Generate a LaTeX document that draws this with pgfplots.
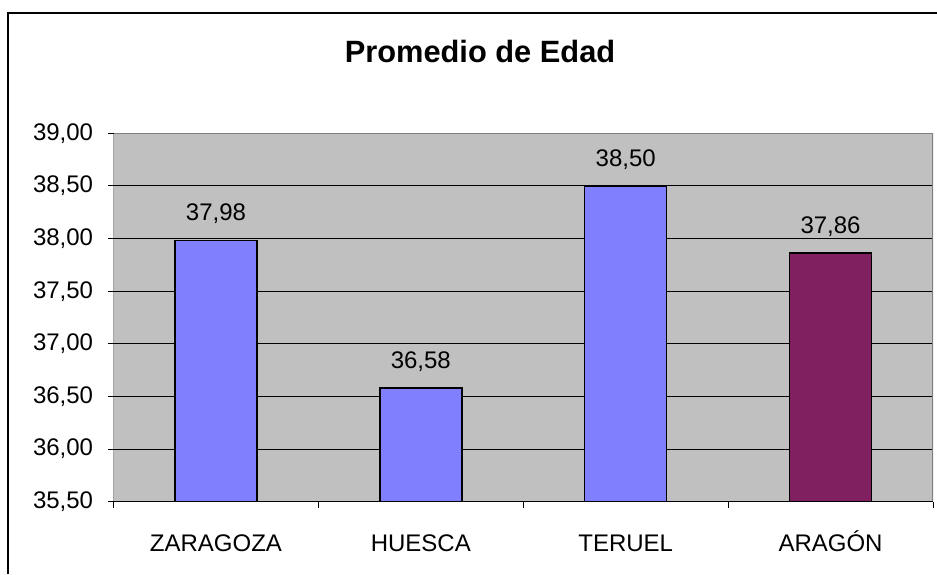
\documentclass[border=0pt]{standalone}
\usepackage{fontspec}
\setmainfont{Liberation Sans}
\usepackage{pgfplots}
\pgfplotsset{compat=1.18}
\definecolor{barblue}{RGB}{128,128,255}
\definecolor{barplum}{RGB}{128,32,96}
\definecolor{plotgray}{RGB}{192,192,192}
\definecolor{bordergray}{RGB}{128,128,128}
\begin{document}
\begin{tikzpicture}
\path[use as bounding box, fill=white] (0,0) rectangle (468.5pt,287pt);
\draw[black, line width=1pt] (4pt,0) -- (4pt,280.5pt) -- (468.5pt,280.5pt);
\node[font=\fontsize{15.4}{18}\selectfont\bfseries, anchor=base] at (240pt,255.5pt) {Promedio de Edad};
\begin{axis}[
  at={(56.75pt,36.15pt)}, anchor=south west,
  scale only axis, width=409.75pt, height=184.2pt,
  xmin=-0.5, xmax=3.5, ymin=35.5, ymax=39,
  ytick={35.5,36,36.5,37,37.5,38,38.5,39},
  xtick={0,1,2,3},
  xticklabels={ZARAGOZA,HUESCA,TERUEL,ARAGÓN},
  minor xtick={-0.5,0.5,1.5,2.5,3.5},
  major x tick style={draw=none},
  minor tick length=3pt, major tick length=3pt,
  tick align=outside,
  xtick pos=bottom, ytick pos=left,
  tick style={black, line width=0.5pt},
  ymajorgrids, grid style={black, line width=0.5pt},
  axis background/.style={fill=plotgray},
  axis line style={draw=none},
  /pgf/number format/.cd, fixed, zerofill, precision=2, use comma, assume math mode=true,
  /pgfplots/.cd,
  tick label style={font=\fontsize{12}{14}\selectfont},
  yticklabel style={inner sep=0pt, xshift=-7pt},
  xticklabel style={anchor=base, inner sep=0pt, yshift=-21.7pt},
  ybar, bar width=41pt,
  nodes near coords,
  every node near coord/.append style={font=\fontsize{12}{14}\selectfont, inner sep=0pt, text depth=0pt, yshift=9.5pt, black},
  clip=true,
]
\addplot[ybar, bar shift=0pt, fill=barblue, draw=black, line width=0.8pt] coordinates {(0,37.98) (1,36.58) (2,38.50)};
\addplot[ybar, bar shift=0pt, fill=barplum, draw=black, line width=0.8pt] coordinates {(3,37.86)};
\draw[bordergray, line width=1pt] (rel axis cs:0,1) -- (rel axis cs:1,1) -- (rel axis cs:1,0);
\draw[black, line width=0.6pt] (rel axis cs:0,1) -- (rel axis cs:0,0) -- (rel axis cs:1,0);
\end{axis}
\end{tikzpicture}
\end{document}
